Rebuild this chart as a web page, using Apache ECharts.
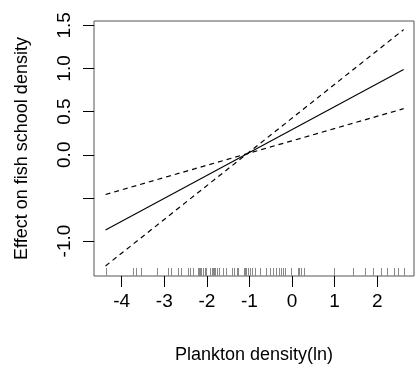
<!DOCTYPE html>
<html>
<head>
<meta charset="utf-8">
<script src="https://cdn.jsdelivr.net/npm/echarts@6/dist/echarts.min.js"></script>
<style>
  html, body { margin: 0; padding: 0; background: #fff; }
  #chart { width: 416px; height: 369px; }
</style>
</head>
<body>
<div id="chart"></div>
<script>
// Smooth term for log plankton density: fitted effect and its confidence limits
var xEnds = [-4.38, 2.62];
var fitEffect = [-0.873, 0.989];
var limitSteep = [-1.289, 1.45];   // lower limit on the left, upper on the right
var limitShallow = [-0.46, 0.534]; // upper limit on the left, lower on the right

// Observed log plankton densities (rug along the x axis)
var rugValues = [
  -4.37, -3.73, -3.67, -3.54, -3.17, -2.91, -2.85, -2.68, -2.61, -2.45,
  -2.39, -2.33, -2.22, -2.19, -2.16, -2.13, -2.09, -2.05, -2.02, -1.93,
  -1.89, -1.86, -1.83, -1.80, -1.77, -1.72, -1.63, -1.54, -1.41, -1.36,
  -1.30, -1.26, -1.14, -1.11, -1.07, -1.03, -0.98, -0.94, -0.88, -0.75,
  -0.62, -0.51, -0.45, -0.37, -0.31, -0.25, -0.21, -0.17, -0.03, 0.13,
  0.17, 0.22, 0.28, 0.98, 1.43, 1.72, 1.91, 2.08, 2.22, 2.40,
  2.49, 2.62
];

// Axis ticks and labels
var xTicks = [-4, -3, -2, -1, 0, 1, 2];
var yTicks = [-1.0, -0.5, 0.0, 0.5, 1.0, 1.5];
var yLabels = [-1.0, 0.0, 0.5, 1.0, 1.5];

var xRange = [-4.65, 2.863];
var yRange = [-1.405, 1.55];

function pairs(xs, ys) {
  return xs.map(function (x, i) { return [x, ys[i]]; });
}

var font = 'Liberation Sans, Arial, Helvetica, sans-serif';
var chart = echarts.init(document.getElementById('chart'), null, { renderer: 'canvas' });

chart.setOption({
  animation: false,
  backgroundColor: '#fff',
  grid: {
    left: 94, right: 2, top: 21, bottom: 93,
    show: true, borderColor: '#555', borderWidth: 1, backgroundColor: 'transparent'
  },
  xAxis: {
    type: 'value',
    min: xRange[0], max: xRange[1],
    name: 'Plankton density(ln)',
    nameLocation: 'middle',
    nameGap: 70,
    nameTextStyle: { fontFamily: font, fontSize: 18, color: '#000' },
    axisLine: { show: false, onZero: false },
    splitLine: { show: false },
    axisTick: {
      show: true, inside: false, length: 11, customValues: xTicks,
      lineStyle: { color: '#000', width: 1 }
    },
    axisLabel: {
      customValues: xTicks, margin: 16,
      fontFamily: font, fontSize: 19, color: '#000',
      formatter: function (v) { return String(v); }
    }
  },
  yAxis: {
    type: 'value',
    min: yRange[0], max: yRange[1],
    name: 'Effect on fish school density',
    nameLocation: 'middle',
    nameRotate: 90,
    nameGap: 63,
    nameTextStyle: { fontFamily: font, fontSize: 18, color: '#000' },
    axisLine: { show: false, onZero: false },
    splitLine: { show: false },
    axisTick: {
      show: true, inside: false, length: 11, customValues: yTicks,
      lineStyle: { color: '#000', width: 1 }
    },
    axisLabel: {
      customValues: yLabels, margin: 20, rotate: 90,
      fontFamily: font, fontSize: 19, color: '#000',
      formatter: function (v) { return v.toFixed(1); }
    }
  },
  series: [
    {
      name: 'fit', type: 'line', data: pairs(xEnds, fitEffect),
      symbol: 'none', silent: true,
      lineStyle: { color: '#000', width: 1.1, type: 'solid' }
    },
    {
      name: 'limitSteep', type: 'line', data: pairs(xEnds, limitSteep),
      symbol: 'none', silent: true,
      lineStyle: { color: '#000', width: 1.2, type: [5, 4] }
    },
    {
      name: 'limitShallow', type: 'line', data: pairs(xEnds, limitShallow),
      symbol: 'none', silent: true,
      lineStyle: { color: '#000', width: 1.2, type: [5, 4] }
    },
    {
      name: 'rug', type: 'custom', silent: true, clip: false,
      data: rugValues.map(function (v) { return [v, yRange[0]]; }),
      renderItem: function (params, api) {
        var p = api.coord([api.value(0), api.value(1)]);
        var x = Math.round(p[0]) + 0.5;
        return {
          type: 'line',
          shape: { x1: x, y1: p[1], x2: x, y2: p[1] - 8 },
          style: { stroke: '#888', lineWidth: 1 }
        };
      }
    }
  ]
});
</script>
</body>
</html>
